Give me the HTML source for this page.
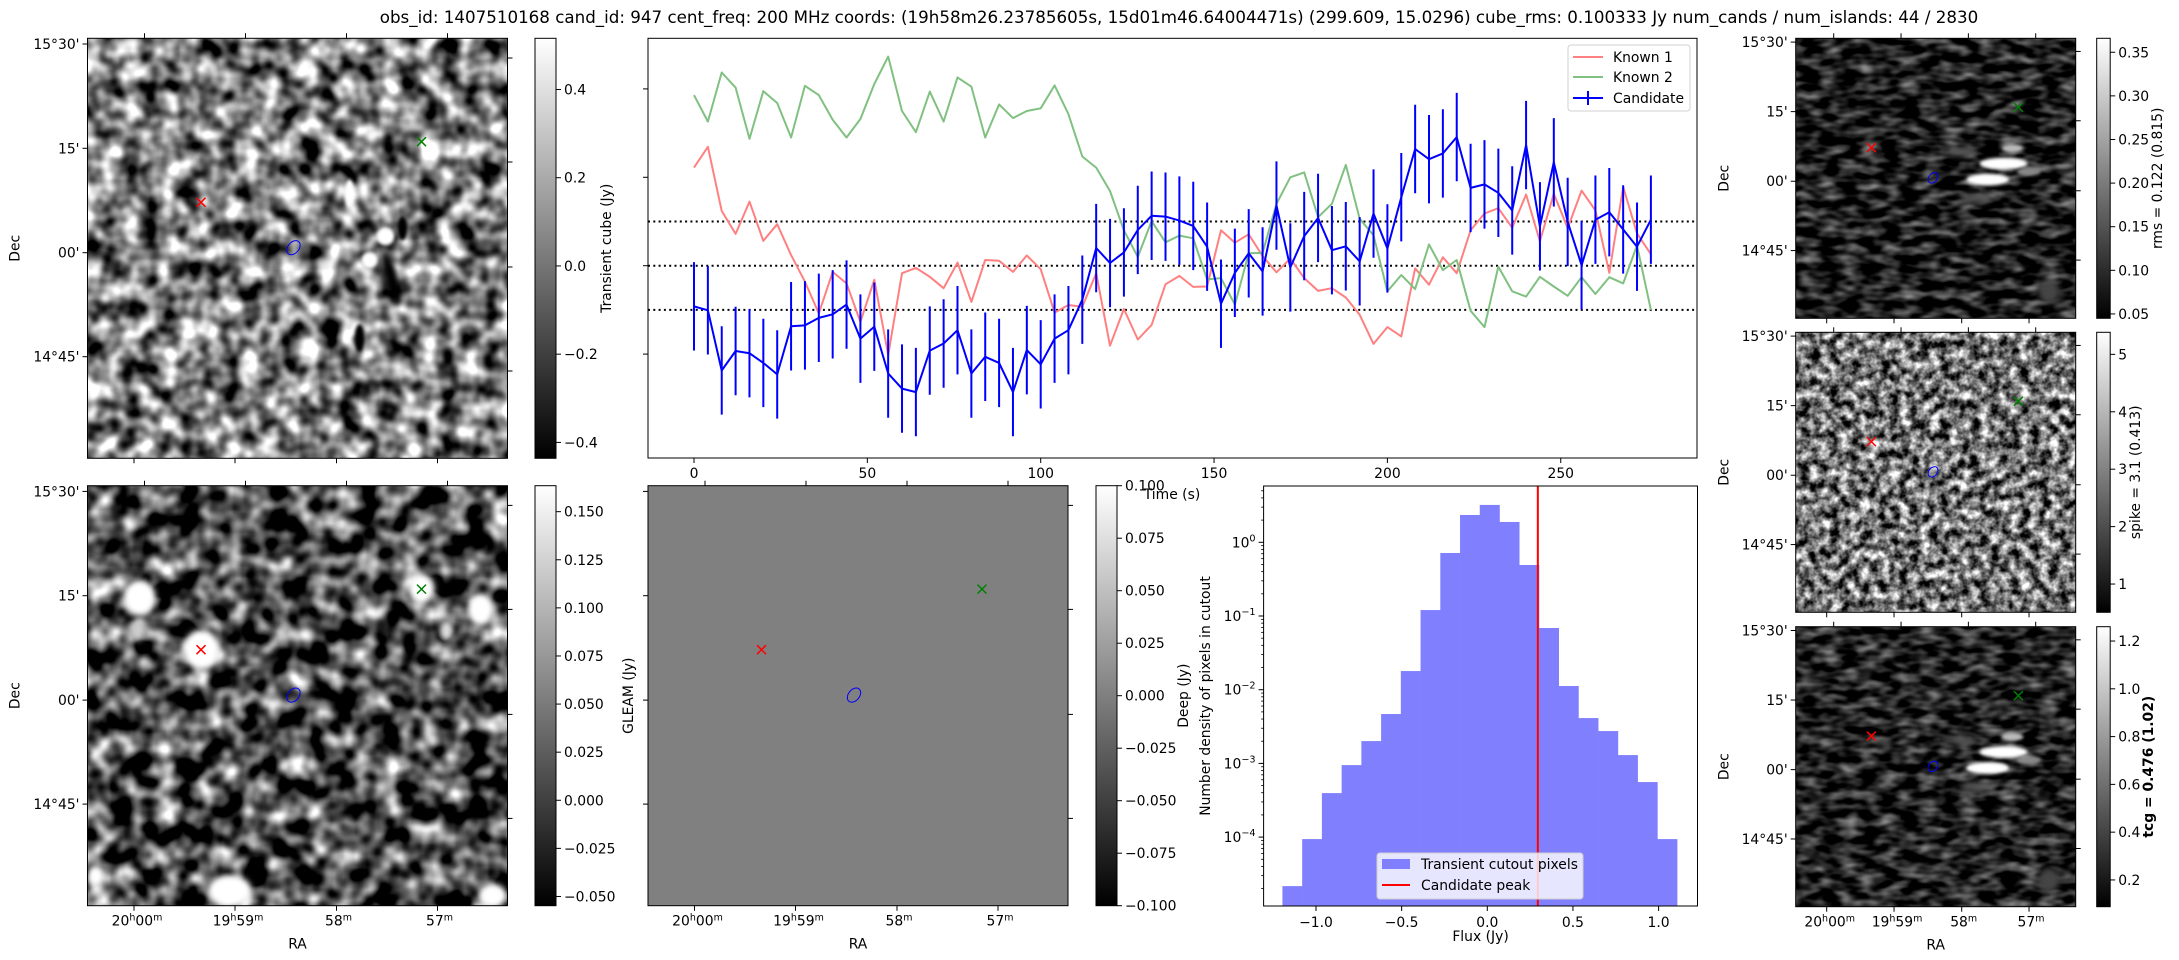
<!DOCTYPE html>
<html><head><meta charset="utf-8">
<style>
html,body{margin:0;padding:0;background:#fff;}
svg{display:block;font-family:"DejaVu Sans","Liberation Sans",sans-serif;}
</style></head>
<body>
<svg id="fig" width="2179" height="960" viewBox="0 0 2179 960" xmlns="http://www.w3.org/2000/svg">
<defs>
 <filter id="nTL" filterUnits="userSpaceOnUse" x="87.5" y="38.3" width="420" height="420" color-interpolation-filters="sRGB">
  <feTurbulence type="fractalNoise" baseFrequency="0.05" numOctaves="2" seed="3"/>
  <feColorMatrix type="matrix" values="2.1 0 0 0 -0.55  2.1 0 0 0 -0.55  2.1 0 0 0 -0.55  0 0 0 0 1"/>
 </filter>
 <filter id="nBL" filterUnits="userSpaceOnUse" x="87.5" y="485.7" width="420" height="420" color-interpolation-filters="sRGB">
  <feTurbulence type="fractalNoise" baseFrequency="0.045" numOctaves="2" seed="11"/>
  <feColorMatrix type="matrix" values="2.2 0 0 0 -0.8  2.2 0 0 0 -0.8  2.2 0 0 0 -0.8  0 0 0 0 1"/>
 </filter>
 <filter id="nR1" filterUnits="userSpaceOnUse" x="1795.7" y="38.3" width="280" height="280" color-interpolation-filters="sRGB">
  <feTurbulence type="fractalNoise" baseFrequency="0.05 0.11" numOctaves="2" seed="5"/>
  <feColorMatrix type="matrix" values="1.1 0 0 0 -0.43  1.1 0 0 0 -0.43  1.1 0 0 0 -0.43  0 0 0 0 1"/>
 </filter>
 <filter id="nR2" filterUnits="userSpaceOnUse" x="1795.7" y="332.3" width="280" height="280" color-interpolation-filters="sRGB">
  <feTurbulence type="fractalNoise" baseFrequency="0.1" numOctaves="3" seed="8"/>
  <feColorMatrix type="matrix" values="2 0 0 0 -0.55  2 0 0 0 -0.55  2 0 0 0 -0.55  0 0 0 0 1"/>
 </filter>
 <filter id="nR3" filterUnits="userSpaceOnUse" x="1795.7" y="626.7" width="280" height="280" color-interpolation-filters="sRGB">
  <feTurbulence type="fractalNoise" baseFrequency="0.05 0.11" numOctaves="2" seed="9"/>
  <feColorMatrix type="matrix" values="1.1 0 0 0 -0.41  1.1 0 0 0 -0.41  1.1 0 0 0 -0.41  0 0 0 0 1"/>
 </filter>
 <filter id="blur3" x="-50%" y="-50%" width="200%" height="200%"><feGaussianBlur stdDeviation="3"/></filter>
 <filter id="blur2" x="-50%" y="-50%" width="200%" height="200%"><feGaussianBlur stdDeviation="1.5"/></filter>
 <linearGradient id="cbgrad" x1="0" y1="1" x2="0" y2="0">
  <stop offset="0" stop-color="#000"/><stop offset="1" stop-color="#fff"/>
 </linearGradient>
 <clipPath id="cTL"><rect x="87.5" y="38.3" width="420" height="420"/></clipPath>
 <clipPath id="cBL"><rect x="87.5" y="485.7" width="420" height="420"/></clipPath>
 <clipPath id="cR1"><rect x="1795.7" y="38.3" width="280" height="280"/></clipPath>
 <clipPath id="cR3"><rect x="1795.7" y="626.7" width="280" height="280"/></clipPath>
 <clipPath id="cLC"><rect x="648" y="38.3" width="1049" height="420"/></clipPath>
</defs>
<text x="1179" y="23" font-size="16.7" text-anchor="middle">obs_id: 1407510168 cand_id: 947 cent_freq: 200 MHz coords: (19h58m26.23785605s, 15d01m46.64004471s) (299.609, 15.0296) cube_rms: 0.100333 Jy num_cands / num_islands: 44 / 2830</text>
</svg>
<script>
// ---------- light curve data ----------
const times = [0,4,8,12,16,20,24,28,32,36,40,44,48,52,56,60,64,68,72,76,80,84,88,92,96,100,104,108,112,116,120,124,128,132,136,140,144,148,152,156,160,164,168,172,176,180,184,188,192,196,200,204,208,212,216,220,224,228,232,236,240,244,248,252,256,260,264,268,272,276];
const candidateFlux = [-0.092,-0.101,-0.237,-0.193,-0.198,-0.220,-0.246,-0.137,-0.135,-0.118,-0.110,-0.088,-0.165,-0.138,-0.244,-0.278,-0.286,-0.192,-0.176,-0.146,-0.244,-0.206,-0.220,-0.286,-0.191,-0.223,-0.165,-0.146,-0.077,0.040,0.006,0.030,0.081,0.113,0.111,0.102,0.090,
 0.043,-0.086,-0.016,0.028,-0.013,0.136,-0.004,0.067,0.108,0.035,0.044,0.010,0.118,0.039,0.155,0.264,0.241,0.254,0.291,0.176,0.184,0.165,0.125,0.273,0.089,0.234,0.099,0.001,0.104,0.121,0.082,0.043,0.104];
const candidateErr = [0.1,0.1,0.1,0.1,0.1,0.1,0.1,0.1,0.1,0.1,0.1,0.1,0.1,0.1,0.1,0.1,0.1,0.1,0.1,0.1,0.1,0.1,0.1,0.1,0.1,0.1,0.1,0.1,0.1,0.1,0.1,0.1,0.1,0.1,0.1,0.1,0.1,0.1,0.1,0.1,0.1,0.1,0.1,0.1,0.1,0.1,0.1,0.1,0.1,0.1,0.1,0.1,0.1,0.1,0.1,0.1,0.1,0.1,0.1,0.1,0.1,0.1,0.1,0.1,0.1,0.1,0.1,0.1,0.1,0.1];
const known1Flux = [0.222,0.269,0.124,0.072,0.145,0.056,0.094,0.024,-0.036,-0.108,-0.014,-0.040,-0.127,-0.032,-0.202,-0.017,-0.005,-0.025,-0.051,0.007,-0.082,0.013,0.011,-0.014,0.023,-0.008,-0.106,-0.089,-0.093,-0.017,-0.181,-0.098,-0.167,-0.134,-0.042,-0.023,-0.048,
 -0.047,0.080,0.052,0.071,0.022,-0.015,0.016,-0.028,-0.057,-0.051,-0.072,-0.111,-0.177,-0.139,-0.160,-0.006,-0.043,0.019,-0.017,0.080,0.118,0.130,0.086,0.161,0.055,0.163,0.085,0.170,0.125,-0.016,0.178,0.073,0.026];
const known2Flux = [0.386,0.326,0.437,0.403,0.287,0.395,0.368,0.290,0.407,0.386,0.330,0.290,0.332,0.411,0.473,0.350,0.302,0.394,0.326,0.426,0.405,0.290,0.365,0.334,0.350,0.356,0.408,0.343,0.247,0.222,0.169,0.080,0.020,0.101,0.053,0.068,0.062,
 -0.031,-0.028,-0.088,0.028,0.029,0.140,0.200,0.211,0.110,0.140,0.228,0.106,0.069,-0.058,-0.021,-0.053,0.048,-0.010,0.013,-0.102,-0.139,-0.002,-0.058,-0.070,-0.025,-0.047,-0.068,-0.026,-0.064,-0.026,-0.040,0.046,-0.100];
const rmsLevels = [0.1,0,-0.1];
const timeTicks = [0,50,100,150,200,250];
const fluxTicksLC = [-0.2,0,0.2,0.4];
// ---------- histogram data ----------
const histStart = -1.196;
const histBinWidth = 0.1152;
const histLogDensity = [-4.665,-4.027,-3.403,-3.023,-2.697,-2.330,-1.747,-0.919,-0.145,0.371,0.507,0.276,-0.308,-1.163,-1.950,-2.385,-2.561,-2.887,-3.253,-4.027];
const candidatePeak = 0.295;
const histXTicks = [-1.0,-0.5,0.0,0.5,1.0];
const histXTickLabels = ['\u22121.0','\u22120.5','0.0','0.5','1.0'];
const histYDecades = [0,-1,-2,-3,-4];
// ---------- colorbar ticks ----------
const cbTransientTicks = [0.4,0.2,0.0,-0.2,-0.4];
const cbTransientLabels = ['0.4','0.2','0.0','\u22120.2','\u22120.4'];
const cbDeepTicks = [0.15,0.125,0.1,0.075,0.05,0.025,0,-0.025,-0.05];
const cbDeepLabels = ['0.150','0.125','0.100','0.075','0.050','0.025','0.000','\u22120.025','\u22120.050'];
const cbGleamTicks = [0.1,0.075,0.05,0.025,0,-0.025,-0.05,-0.075,-0.1];
const cbGleamLabels = ['0.100','0.075','0.050','0.025','0.000','\u22120.025','\u22120.050','\u22120.075','\u22120.100'];
const cbRmsTicks = [0.35,0.30,0.25,0.20,0.15,0.10,0.05];
const cbRmsLabels = ['0.35','0.30','0.25','0.20','0.15','0.10','0.05'];
const cbSpikeTicks = [5,4,3,2,1];
const cbSpikeLabels = ['5','4','3','2','1'];
const cbTcgTicks = [1.2,1.0,0.8,0.6,0.4,0.2];
const cbTcgLabels = ['1.2','1.0','0.8','0.6','0.4','0.2'];

const NS='http://www.w3.org/2000/svg';
const svg=document.getElementById('fig');
function mk(tag,attrs,parent){const e=document.createElementNS(NS,tag);for(const k in attrs)e.setAttribute(k,attrs[k]);(parent||svg).appendChild(e);return e;}
function txt(x,y,s,attrs,parent){const e=mk('text',Object.assign({x:x,y:y,'font-size':13.9},attrs||{}),parent);e.textContent=s;return e;}
function group(name){const g=mk('g',{});return g;}

const decLabels=["15\u00b030'","15'","00'","14\u00b045'"];
function raLabel(g,x,y,parts){
  const t=mk('text',{x:x,y:y,'font-size':13.9,'text-anchor':'middle'},g);
  let prevSup=false;
  parts.forEach(p=>{const sup=p[1];const s=mk('tspan',{'font-size':sup?9.5:13.9,dy:sup?(prevSup?0:-5):(prevSup?5:0)},t);s.textContent=p[0];prevSup=sup;});
  
  
  return t;
}
function panel(name,x,y,s,filterId,clipId,opts){
  const g=group(name);
  const k=s/420;
  const bg=mk('rect',{x:x,y:y,width:s,height:s,fill:opts.fill||'#808080',filter:filterId?'url(#'+filterId+')':'none'},g);
  
  
  if(opts.blobs){
    const bgp=mk('g',{'clip-path':'url(#'+clipId+')'},g);
    opts.blobs.forEach(b=>{
      const cx=x+b[0]*k,cy=y+b[1]*k;
      const a={cx:cx,cy:cy,rx:b[2]*k,ry:b[3]*k,fill:b[4],filter:'url(#'+(b[5]||'blur3')+')'};
      if(b[6])a.transform='rotate('+b[6]+' '+cx+' '+cy+')';
      const e=mk('ellipse',a,bgp);
      
      
    });
  }
  const red=[113.5,164],green=[334,103.4],blue=[206,209.4];
  const mx=(c,col,nm)=>{const m=mk('g',{stroke:col,'stroke-width':1.5},g);
    
    
    const cx=x+c[0]*k,cy=y+c[1]*k,r=4.5;
    mk('line',{x1:cx-r,y1:cy-r,x2:cx+r,y2:cy+r},m);mk('line',{x1:cx-r,y1:cy+r,x2:cx+r,y2:cy-r},m);};
  mx(red,'#ff0000','known-1-marker');mx(green,'#008000','known-2-marker');
  const bx=x+blue[0]*k,by=y+blue[1]*k;
  const be=mk('ellipse',{cx:bx,cy:by,rx:4*k+1.5,ry:6.5*k+1.5,fill:'none',stroke:'#0000ff','stroke-width':1,transform:'rotate(40 '+bx+' '+by+')'},g);
  
  
  const fr=mk('rect',{x:x,y:y,width:s,height:s,fill:'none',stroke:'#000','stroke-width':1},g);
  
  
  const tk=mk('g',{stroke:'#000','stroke-width':1},g);
  [5.7,110,214.4,318.4].forEach(v=>mk('line',{x1:x-5,y1:y+v*k,x2:x,y2:y+v*k},tk));
  [19.7,123.7,228.7,332.7].forEach(v=>mk('line',{x1:x+s,y1:y+v*k,x2:x+s+5,y2:y+v*k},tk));
  [46.5,147.5,249,350].forEach(v=>mk('line',{x1:x+v*k,y1:y+s,x2:x+v*k,y2:y+s+5},tk));
  [57,158,259,360].forEach(v=>mk('line',{x1:x+v*k,y1:y,x2:x+v*k,y2:y-5},tk));
  if(opts.dec){
    [5.7,110,214.4,318.4].forEach((v,i)=>{const t=txt(x-8,y+v*k+5,decLabels[i],{'text-anchor':'end'},g);
      });
    const d=txt(0,0,'Dec',{'text-anchor':'middle',transform:'translate('+(x-(k<1?67:68))+','+(y+s/2)+') rotate(-90)'},g);
    
  }
  if(opts.ra){
    const parts=[[['20',0],['h',1],['00',0],['m',1]],[['19',0],['h',1],['59',0],['m',1]],[['58',0],['m',1]],[['57',0],['m',1]]];
    [46.5,147.5,249,350].forEach((v,i)=>raLabel(g,x+v*k+(i<2?3:2),y+s+20,parts[i]));
    const r=txt(x+s/2,y+s+43,'RA',{'text-anchor':'middle'},g);
    
  }
  if(opts.ylabel){
    const d=txt(0,0,opts.ylabel,{'text-anchor':'middle',transform:'translate('+(x-15)+','+(y+s/2)+') rotate(-90)'},g);
    
  }
}
function cbar(name,x,y,w,h,vmin,vmax,ticks,labels,label,labelX,bold){
  const g=group(name);
  const r=mk('rect',{x:x,y:y,width:w,height:h,fill:'url(#cbgrad)',stroke:'#000','stroke-width':1},g);
  
  
  const ys=v=>y+h-(v-vmin)/(vmax-vmin)*h;
  ticks.forEach((v,i)=>{
    const yy=ys(v);
    mk('line',{x1:x+w,y1:yy,x2:x+w+5,y2:yy,stroke:'#000','stroke-width':1},g);
    const t=txt(x+w+8,yy+5,labels[i],{},g);
    
  });
  if(label){
    const t=txt(0,0,label,{'text-anchor':'middle',transform:'translate('+labelX+','+(y+h/2)+') rotate(-90)','font-weight':bold?'bold':'normal'},g);
    
  }
}

panel('transient-cutout',87.5,38.3,420,'nTL','cTL',{dec:true,blobs:[
  [298,198,9,9,'#fff','blur2'],[282,222,8,8,'#fff','blur2'],[304,240,6,28,'#000','blur3',-15],[315,190,5,12,'#000','blur2'],[262,155,5,14,'#fff','blur2'],[272,300,5,14,'#000','blur2']]});
cbar('transient-colorbar',535,38.3,21,420,-0.436,0.516,cbTransientTicks,cbTransientLabels,'Transient cube (Jy)',611);
panel('deep-cutout',87.5,485.7,420,'nBL','cBL',{dec:true,ra:true,blobs:[
  [52,112,16,18,'#fff'],[114,164,18,20,'#fff'],[334,103,13,15,'#fff'],[393,124,13,16,'#fff'],[142,405,22,16,'#fff'],[405,410,14,12,'#fff'],[8,390,8,10,'#fff'],[50,145,8,10,'#ccc'],[359,145,7,10,'#ddd']]});
cbar('deep-colorbar',535,485.7,21,420,-0.0548,0.1635,cbDeepTicks,cbDeepLabels,null,0);
panel('gleam-cutout',648,485.7,420,null,null,{ra:true,ylabel:'GLEAM (Jy)',fill:'#808080'});
cbar('gleam-colorbar',1096,485.7,21,420,-0.1,0.1,cbGleamTicks,cbGleamLabels,'Deep (Jy)',1188);
const hot=[[312,188,36,9,'#fff','blur2'],[288,212,32,9,'#fff','blur2'],[325,165,16,6,'#bbb','blur2'],[350,200,18,6,'#888','blur2'],[250,170,22,7,'#555','blur3'],[270,240,24,7,'#555','blur3'],[380,380,16,18,'#444','blur3']];
panel('rms-cutout',1795.7,38.3,280,'nR1','cR1',{dec:true,blobs:hot});
cbar('rms-colorbar',1795.7+301,38.3,13.5,280,0.045,0.366,cbRmsTicks,cbRmsLabels,'rms = 0.122 (0.815)',2162);
panel('spike-cutout',1795.7,332.3,280,'nR2',null,{dec:true});
cbar('spike-colorbar',1795.7+301,332.3,13.5,280,0.508,5.384,cbSpikeTicks,cbSpikeLabels,'spike = 3.1 (0.413)',2140);
panel('tcg-cutout',1795.7,626.7,280,'nR3','cR3',{dec:true,ra:true,blobs:hot});
cbar('tcg-colorbar',1795.7+301,626.7,13.5,280,0.088,1.260,cbTcgTicks,cbTcgLabels,'tcg = 0.476 (1.02)',2153,true);

// ---------- light curve ----------
const LC={x0:648,x1:1697,y0:38.3,y1:458};
const xT=t=>694+t*3.467;
const yF=v=>265.7-v*442;
const lc=group('light-curve-chart');
const lcf=mk('rect',{x:LC.x0,y:LC.y0,width:LC.x1-LC.x0,height:LC.y1-LC.y0,fill:'#fff',stroke:'none'},lc);


const plot=mk('g',{'clip-path':'url(#cLC)'},lc);
rmsLevels.forEach(v=>{const l=mk('line',{x1:LC.x0,x2:LC.x1,y1:yF(v),y2:yF(v),stroke:'#000','stroke-width':2,'stroke-dasharray':'2,3.3'},plot);
  });
function series(vals,col,name,w){
  const p=mk('polyline',{points:vals.map((v,i)=>xT(times[i]).toFixed(1)+','+yF(v).toFixed(1)).join(' '),fill:'none',stroke:col,'stroke-width':w,'stroke-linejoin':'round'},plot);
  return p;}
series(known1Flux,'#ff8080','known-1-line',2);
series(known2Flux,'#80c080','known-2-line',2);
candidateFlux.forEach((v,i)=>{const l=mk('line',{x1:xT(times[i]),x2:xT(times[i]),y1:yF(v-candidateErr[i]),y2:yF(v+candidateErr[i]),stroke:'#0000ff','stroke-width':2},plot);
  });
series(candidateFlux,'#0000ff','candidate-line',2);
const lcb=mk('rect',{x:LC.x0,y:LC.y0,width:LC.x1-LC.x0,height:LC.y1-LC.y0,fill:'none',stroke:'#000','stroke-width':1},lc);

timeTicks.forEach(t=>{mk('line',{x1:xT(t),x2:xT(t),y1:LC.y1,y2:LC.y1+5,stroke:'#000'},lc);
  const tl=txt(xT(t),LC.y1+20,String(t),{'text-anchor':'middle'},lc);
  });
fluxTicksLC.forEach(v=>mk('line',{x1:LC.x0-5,x2:LC.x0,y1:yF(v),y2:yF(v),stroke:'#000'},lc));
const tt=txt(1172,499,'Time (s)',{'text-anchor':'middle'},lc);

const lg=mk('g',{},lc);

mk('rect',{x:1568,y:45,width:122,height:66,rx:3,fill:'#fff','fill-opacity':0.8,stroke:'#d0d0d0'},lg);
[['Known 1','#ff8080',57],['Known 2','#80c080',77],['Candidate','#0000ff',98]].forEach(e=>{
  mk('line',{x1:1573,x2:1603,y1:e[2],y2:e[2],stroke:e[1],'stroke-width':2},lg);
  if(e[0]==='Candidate')mk('line',{x1:1588,x2:1588,y1:e[2]-7,y2:e[2]+7,stroke:e[1],'stroke-width':2},lg);
  const t=txt(1613,e[2]+5,e[0],{},lg);
  });

// ---------- histogram ----------
const H={x0:1263.6,x1:1697.5,y0:486,y1:906};
const xH=v=>1487.3+v*171.3;
const yH=lg10=>542.3-lg10*73.7;
const hg=group('flux-histogram');
histLogDensity.forEach((d,i)=>{const a=histStart+i*histBinWidth;
  const r=mk('rect',{x:xH(a),y:yH(d),width:xH(a+histBinWidth)-xH(a)+0.3,height:H.y1-yH(d),fill:'#8080ff'},hg);
  });
const pk=mk('line',{x1:xH(candidatePeak),x2:xH(candidatePeak),y1:H.y0,y2:H.y1,stroke:'#ff0000','stroke-width':2},hg);

const hfr=mk('rect',{x:H.x0,y:H.y0,width:H.x1-H.x0,height:H.y1-H.y0,fill:'none',stroke:'#000'},hg);

histXTicks.forEach((v,i)=>{mk('line',{x1:xH(v),x2:xH(v),y1:H.y1,y2:H.y1+5,stroke:'#000'},hg);
  const t=txt(xH(v),H.y1+21,histXTickLabels[i],{'text-anchor':'middle'},hg);
  });
histYDecades.forEach(d=>{mk('line',{x1:H.x0-5,x2:H.x0,y1:yH(d),y2:yH(d),stroke:'#000'},hg);
  const t=mk('text',{x:H.x0-8,y:yH(d)+5,'font-size':13.9,'text-anchor':'end'},hg);
  const a=mk('tspan',{},t);a.textContent='10';
  const b=mk('tspan',{dy:-6,'font-size':9.7},t);b.textContent=d===0?'0':'\u2212'+(-d);
  });
for(let d=-5;d<=0;d++){for(let m=2;m<=9;m++){const lv=d+Math.log10(m);const yy=yH(lv);
  if(yy>H.y0&&yy<H.y1)mk('line',{x1:H.x0-2.5,x2:H.x0,y1:yy,y2:yy,stroke:'#000','stroke-width':0.8},hg);}}
const fx=txt((H.x0+H.x1)/2,941,'Flux (Jy)',{'text-anchor':'middle'},hg);

const ny=txt(0,0,'Number density of pixels in cutout',{'text-anchor':'middle',transform:'translate(1210,696) rotate(-90)'},hg);

const hl=mk('g',{},hg);

mk('rect',{x:1377,y:853,width:206,height:46,rx:3,fill:'#fff','fill-opacity':0.8,stroke:'#d0d0d0'},hl);
mk('rect',{x:1382,y:859,width:28,height:10,fill:'#8080ff'},hl);
mk('line',{x1:1382,x2:1410,y1:885,y2:885,stroke:'#ff0000','stroke-width':2},hl);
const l1=txt(1421,869,'Transient cutout pixels',{},hl);

const l2=txt(1421,890,'Candidate peak',{},hl);

</script>
</body></html>
